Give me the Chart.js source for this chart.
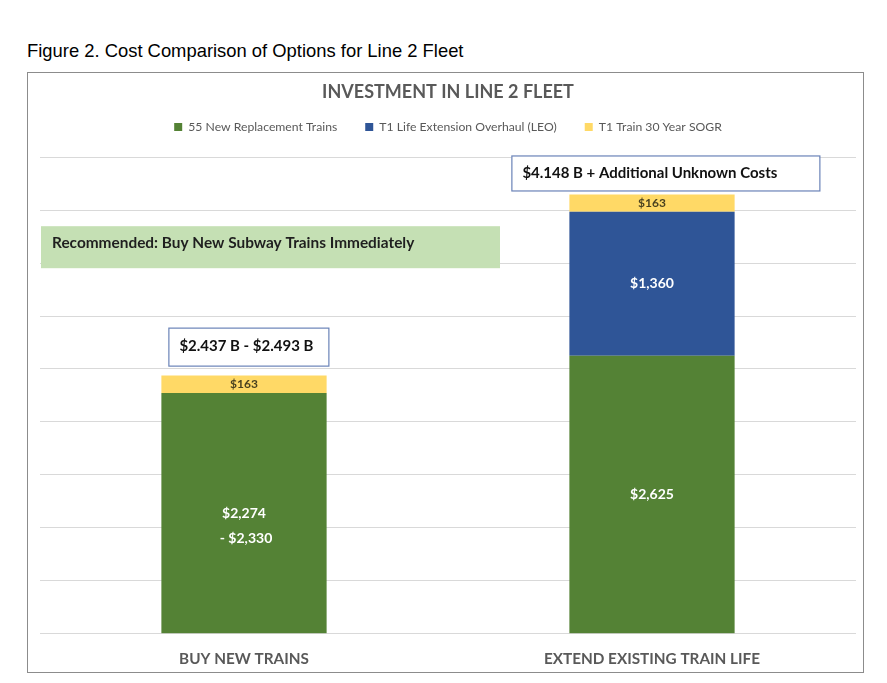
<!DOCTYPE html>
<html>
<head>
<meta charset="utf-8">
<script src="https://cdn.jsdelivr.net/npm/chart.js@4.4.1/dist/chart.umd.min.js"></script>
<style>
  body { margin: 0; background: #fff; }
  #caption {
    position: absolute; left: 27px; top: 41px;
    font: 18.4px "Liberation Sans", Arial, sans-serif; color: #000;
    line-height: 19px; white-space: nowrap;
  }
  #frame {
    position: absolute; left: 27px; top: 72px;
    width: 835px; height: 599px;
    border: 1px solid #8c8c8c;
  }
  #wrap { position: absolute; left: 0; top: 0; width: 835px; height: 603px; }
</style>
</head>
<body>
<div id="caption">Figure 2. Cost Comparison of Options for Line 2 Fleet</div>
<div id="frame"><div id="wrap"><canvas id="myChart"></canvas></div></div>
<script>
const categories = ["BUY NEW TRAINS", "EXTEND EXISTING TRAIN LIFE"];
const newTrains = [2274, 2625];
const newTrainsHigh = [2330, null];
const lifeExtension = [0, 1360];
const sogr = [163, 163];
const totalNotes = ["$2.437 B - $2.493 B", "$4.148 B + Additional Unknown Costs"];
const recommendation = "Recommended: Buy New Subway Trains Immediately";

const FONT = "Lato, 'Open Sans', sans-serif";

function money(v) {
  return "$" + v.toLocaleString("en-US");
}

// labels drawn in the middle of each bar segment
const barLabels = {
  id: "barLabels",
  afterDatasetsDraw(chart) {
    const ctx = chart.ctx;
    ctx.save();
    ctx.textAlign = "center";
    ctx.textBaseline = "middle";
    chart.data.datasets.forEach((ds, i) => {
      const meta = chart.getDatasetMeta(i);
      meta.data.forEach((bar, j) => {
        const v = ds.data[j];
        if (!v) return;
        const p = bar.getProps(["x", "y", "base"], true);
        const cy = (p.y + p.base) / 2;
        ctx.fillStyle = ds.labelColor;
        ctx.font = "bold " + ds.labelSize + "px " + FONT;
        ctx.fillText(money(v), p.x, cy);
        if (i === 0 && newTrainsHigh[j]) {
          ctx.fillText("- " + money(newTrainsHigh[j]), p.x + 2, cy + 25);
        }
      });
    });
    ctx.restore();
  }
};

// text boxes: recommendation + totals above each stack
const noteBoxes = {
  id: "noteBoxes",
  afterDraw(chart) {
    const ctx = chart.ctx;
    const ca = chart.chartArea;
    ctx.save();

    ctx.fillStyle = "#c5e0b4";
    ctx.fillRect(ca.left + 1, ca.top + 69, 459, 42);
    ctx.fillStyle = "#1f1f1f";
    ctx.font = "bold 15.4px " + FONT;
    ctx.textBaseline = "middle";
    ctx.textAlign = "left";
    ctx.fillText(recommendation, ca.left + 12, ca.top + 86);

    const top = chart.getDatasetMeta(2).data;
    const boxes = [
      { dx: 7, w: 160, h: 38, gap: 10 },
      { dx: -58, w: 308, h: 35, gap: 4 }
    ];
    top.forEach((bar, j) => {
      const b = boxes[j];
      const p = bar.getProps(["x", "y", "width"], true);
      const left = p.x - p.width / 2 + b.dx;
      const y0 = p.y - b.gap - b.h;
      ctx.fillStyle = "#fff";
      ctx.fillRect(left, y0, b.w, b.h);
      ctx.strokeStyle = "#6a83b8";
      ctx.lineWidth = 1.2;
      ctx.strokeRect(left + 0.5, y0 + 0.5, b.w, b.h);
      ctx.fillStyle = "#111";
      ctx.font = "bold 15px " + FONT;
      ctx.fillText(totalNotes[j], left + 11, y0 + b.h / 2);
    });
    ctx.restore();
  }
};

// extra space between the legend row and the plot
const legendGap = {
  id: "legendGap",
  beforeLayout(chart, args, opts) {
    const legend = chart.legend;
    if (!legend || legend._gapPatched) return;
    const fit = legend.fit;
    legend.fit = function () {
      fit.call(this);
      this.height += opts.extra;
    };
    legend._gapPatched = true;
  }
};

const data = {
  labels: categories,
  datasets: [
    {
      label: "55 New Replacement Trains",
      data: newTrains,
      backgroundColor: "#548235",
      labelColor: "#ffffff",
      labelSize: 14
    },
    {
      label: "T1 Life Extension Overhaul (LEO)",
      data: lifeExtension,
      backgroundColor: "#2f5597",
      labelColor: "#ffffff",
      labelSize: 14
    },
    {
      label: "T1 Train 30 Year SOGR",
      data: sogr,
      backgroundColor: "#ffd966",
      labelColor: "#4a4220",
      labelSize: 12
    }
  ]
};

const config = {
  type: "bar",
  data: data,
  options: {
    responsive: true,
    maintainAspectRatio: false,
    animation: false,
    barPercentage: 0.405,
    categoryPercentage: 1,
    layout: { padding: { left: 12, right: 7, top: 10, bottom: 0 } },
    plugins: {
      title: {
        display: true,
        text: "INVESTMENT IN LINE 2 FLEET",
        color: "#595959",
        font: { family: FONT, size: 18, weight: "bold", lineHeight: 1 },
        padding: { top: 0, bottom: -8 }
      },
      legend: {
        display: true,
        labels: {
          boxWidth: 8,
          boxHeight: 8,
          padding: 28,
          color: "#595959",
          font: { family: FONT, size: 12.2 }
        }
      },
      legendGap: { extra: 14 },
      tooltip: { enabled: false }
    },
    scales: {
      x: {
        stacked: true,
        grid: { display: false },
        border: { display: false },
        ticks: {
          color: "#595959",
          padding: 8,
          font: { family: FONT, size: 15.3, weight: "bold" }
        }
      },
      y: {
        stacked: true,
        min: 0,
        max: 4500,
        ticks: { display: false, stepSize: 500 },
        grid: { color: "#d9d9d9", drawTicks: false },
        border: { display: false }
      }
    }
  },
  plugins: [barLabels, noteBoxes, legendGap]
};

var myChart = new Chart(document.getElementById("myChart"), config);
</script>
</body>
</html>
